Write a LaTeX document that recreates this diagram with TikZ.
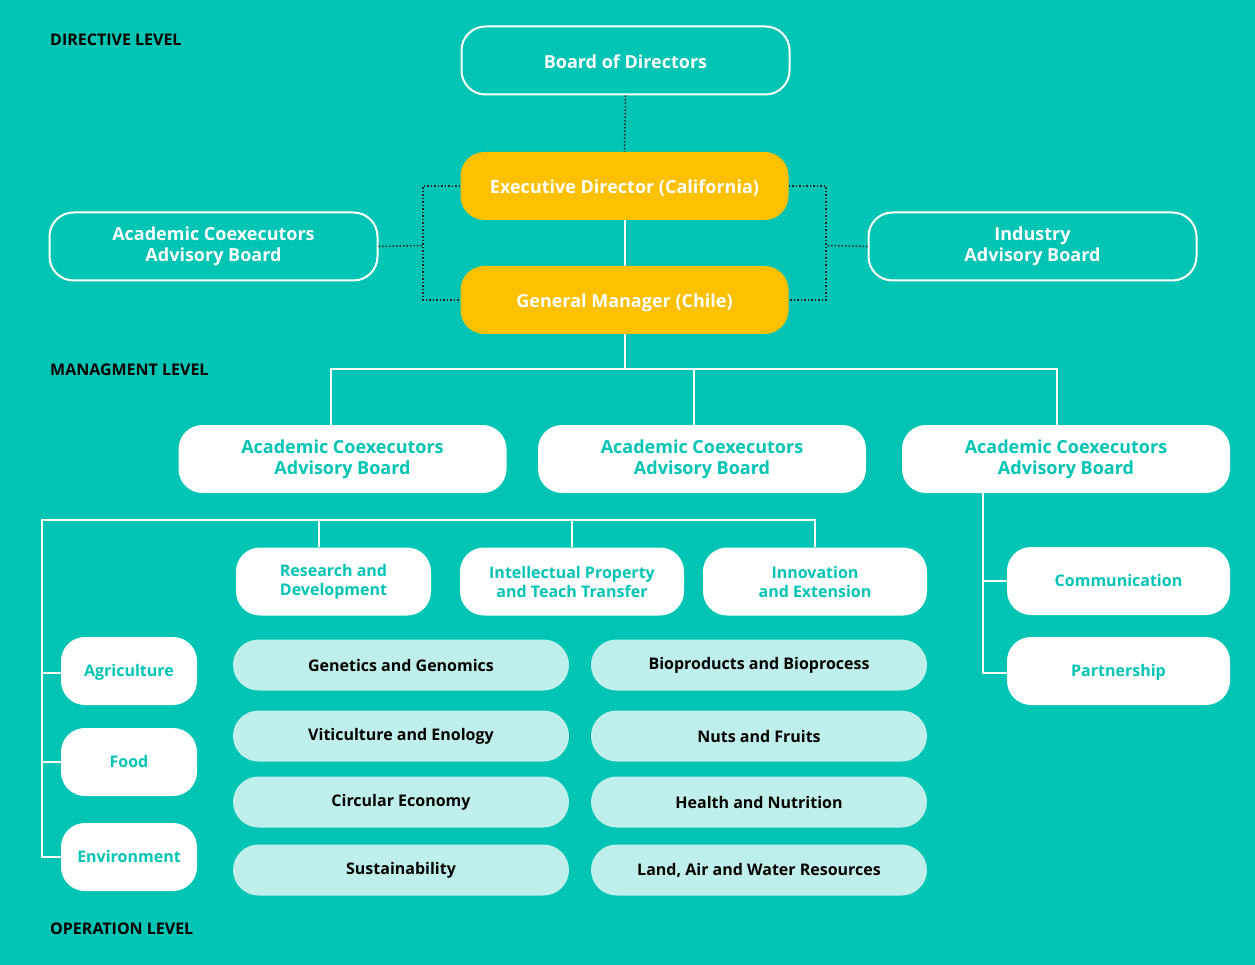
\documentclass[tikz,border=0pt]{standalone}
\usepackage{fontspec}
\setmainfont{Open Sans}
\definecolor{bgteal}{RGB}{0,196,180}
\definecolor{headyellow}{RGB}{255,192,0}
\definecolor{paleteal}{RGB}{191,239,234}
\definecolor{dotgrey}{RGB}{40,40,40}

\begin{document}
\begin{tikzpicture}[x=1pt, y=-1pt,
  box/.style={rounded corners=24pt, minimum width=328pt, minimum height=68pt, align=center, inner sep=0pt,
    font=\bfseries\fontsize{18}{21}\selectfont},
  oneline/.style={text height=15.5pt, text depth=0pt},
  outline/.style={box, draw=white, line width=2pt, text=white},
  head/.style={box, oneline, fill=headyellow, text=white},
  unit/.style={box, fill=white, text=bgteal},
  small/.style={unit, font=\bfseries\fontsize{16}{19}\selectfont},
  tag/.style={small, text height=11.7pt, text depth=0pt},
  area/.style={rounded corners=25.5pt, minimum width=336pt, minimum height=51pt, inner sep=0pt, fill=paleteal,
    text=black, font=\bfseries\fontsize{16}{19}\selectfont},
  level/.style={anchor=base west, inner sep=0pt, font=\bfseries\fontsize{16}{19}\selectfont},
  link/.style={draw=white, line width=2pt},
  dots/.style={draw=dotgrey, line width=1.5pt, dotted}]
 	\fill[bgteal] (0,0) rectangle (1255,965);
 	\useasboundingbox (0,0) rectangle (1255,965);
 	% levels
 	\node[level](LDir) at (50,45.5) {DIRECTIVE LEVEL};
 	\node[level](LMan) at (50,375.5) {MANAGMENT LEVEL};
 	\node[level](LOp) at (50,934.5) {OPERATION LEVEL};
 	% directive level
 	\node[outline, oneline](Board) at (625.5,60.5) {Board of Directors};
 	\node[head](Exec) at (624.5,186) {Executive Director (California)};
 	\node[head](GM) at (624.5,300) {General Manager (Chile)};
 	\node[outline](AcadAdv) at (213.5,246.5) {Academic Coexecutors\\Advisory Board};
 	\node[outline](IndAdv) at (1032.5,246.5) {Industry\\Advisory Board};
 	\coordinate(DL) at (423,245.5);
 	\coordinate(DR) at (826,245.5);
 	\draw[dots] (Board.south) -- (Exec.north);
 	\draw[dots] (Exec.west) -| (DL) |- (GM.west);
 	\draw[dots] (Exec.east) -| (DR) |- (GM.east);
 	\draw[dots] (AcadAdv.east) -- (DL);
 	\draw[dots] (IndAdv.west) -- (DR);
 	\draw[link] (Exec.south) -- (GM.north);
 	% managment level
 	\node[unit](MgtA) at (342.5,459) {Academic Coexecutors\\Advisory Board};
 	\node[unit](MgtB) at (702,459) {Academic Coexecutors\\Advisory Board};
 	\node[unit](MgtC) at (1066,459) {Academic Coexecutors\\Advisory Board};
 	\coordinate(MBus) at (624.5,369);
 	\draw[link] (GM.south) -- (MBus);
 	\draw[link] (331,425) |- (1057,369) -- (1057,425);
 	\draw[link] (694,369) -- (694,425);
 	% operation level
 	\node[small, minimum width=195pt](RD) at (333.5,581.5) {Research and\\Development};
 	\node[small, minimum width=224pt](IP) at (572,581.5) {Intellectual Property\\and Teach Transfer};
 	\node[small, minimum width=224pt](Innov) at (815,581.5) {Innovation\\and Extension};
 	\node[tag, minimum width=136pt](Agri) at (129,671) {Agriculture};
 	\node[tag, minimum width=136pt](Food) at (129,762) {Food};
 	\node[tag, minimum width=136pt](Env) at (129,857) {Environment};
 	\node[tag, minimum width=223pt](Comm) at (1118.5,581) {Communication};
 	\node[tag, minimum width=223pt](Partner) at (1118.5,671) {Partnership};
 	\node[area](Gen) at (401,665) {Genetics and Genomics};
 	\node[area](Viti) at (401,736) {Viticulture and Enology};
 	\node[area](Circ) at (401,802) {Circular Economy};
 	\node[area](Sust) at (401,870) {Sustainability};
 	\node[area](Bio) at (759,665) {Bioproducts and Bioprocess};
 	\node[area](Nuts) at (759,736) {Nuts and Fruits};
 	\node[area](Health) at (759,802) {Health and Nutrition};
 	\node[area](Land) at (759,870) {Land, Air and Water Resources};
 	\coordinate(OBus) at (42,520);
 	\draw[link] (Env.west) -| (OBus) -| (Innov.north);
 	\draw[link] (319,520) -- (RD.north -| 319,520);
 	\draw[link] (IP.north) -- (572,520);
 	\draw[link] (42,673) -- (Agri.west |- 42,673);
 	\draw[link] (42,762) -- (Food.west);
 	\draw[link] (983,492) |- (Partner.west |- 983,673);
 	\draw[link] (983,581) -- (Comm.west);
\end{tikzpicture}
\end{document}
